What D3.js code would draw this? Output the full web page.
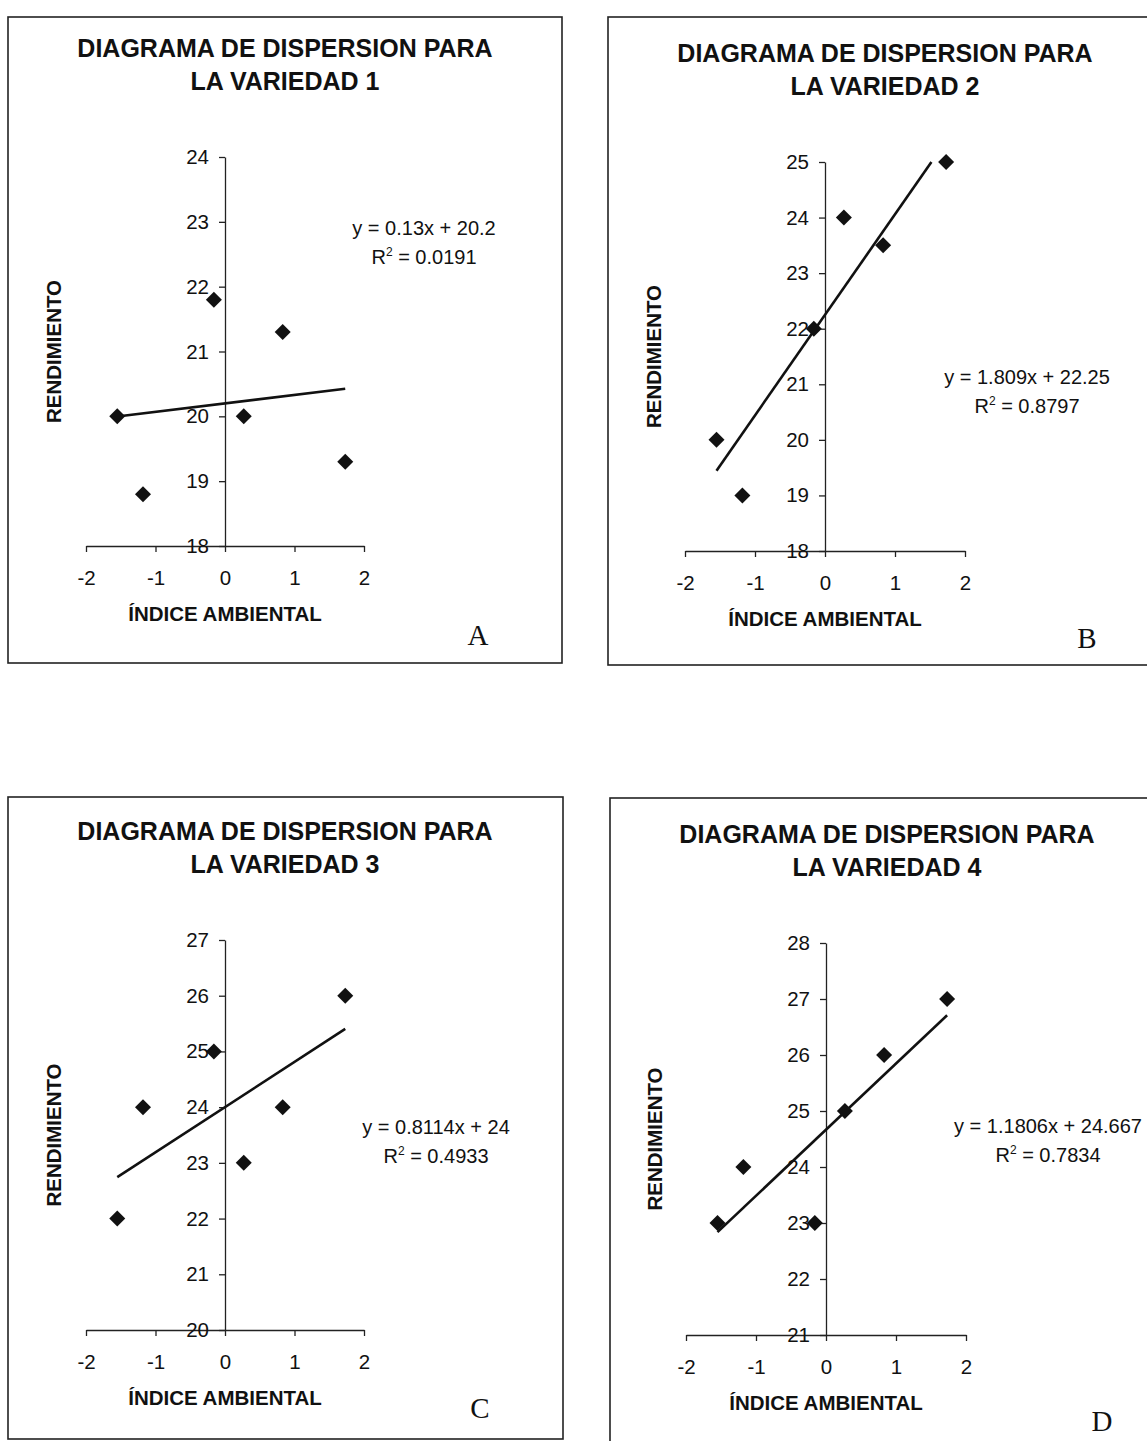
<!doctype html>
<html lang="es">
<head>
    <meta charset="UTF-8">
    <title>Diagramas de dispersion</title>
    <style>
        body { margin: 0; background: #fff; }
        svg text { font-family: "Liberation Sans", Arial, sans-serif; fill: #111; }
    </style>
</head>
<body>

<svg width="1147" height="1441"></svg>

<script src="https://d3js.org/d3.v7.min.js"></script>
<script>
    // datos
    const indiceAmbiental = [-1.55, -1.18, -0.16, 0.27, 0.83, 1.73];
    const variedad1 = [20.0, 18.8, 21.8, 20.0, 21.3, 19.3];
    const variedad2 = [20, 19, 22, 24, 23.5, 25];
    const variedad3 = [22, 24, 25, 23, 24, 26];
    const variedad4 = [23, 24, 23, 25, 26, 27];
    const pendientes = [0.13, 1.809, 0.8114, 1.1806];
    const interceptos = [20.2, 22.25, 24, 24.667];
    const r2 = ['0.0191', '0.8797', '0.4933', '0.7834'];
    const yDominios = [[18, 24], [18, 25], [20, 27], [21, 28]];
    const xTicks = [-2, -1, 0, 1, 2];
    const letras = ['A', 'B', 'C', 'D'];
    const variedades = [variedad1, variedad2, variedad3, variedad4];

    // posicion de cada panel en la pagina
    const layout = [
        { box: [8, 17, 554, 646],   x: [86, 364],  y: [546, 157],   title: 57,  eq: [424, 235],  letter: [478, 645] },
        { box: [608, 17, 560, 648], x: [685, 965], y: [551, 162],   title: 62,  eq: [1027, 384], letter: [1087, 648] },
        { box: [8, 797, 555, 642],  x: [86, 364],  y: [1330, 940],  title: 840, eq: [436, 1134], letter: [480, 1418] },
        { box: [610, 798, 560, 660], x: [686, 966], y: [1335, 943], title: 843, eq: [1048, 1133], letter: [1102, 1431] }
    ];

    const svg = d3.select('svg');
    const diamond = d3.symbol().type(d3.symbolSquare).size(128);

    variedades.forEach((ys, i) => {
        const L = layout[i];
        const g = svg.append('g');

        g.append('rect')
            .attr('x', L.box[0]).attr('y', L.box[1])
            .attr('width', L.box[2]).attr('height', L.box[3])
            .attr('fill', 'none')
            .attr('stroke', '#222')
            .attr('stroke-width', 1.6);

        const cx = L.box[0] + 277;
        const title = g.append('text')
            .attr('text-anchor', 'middle')
            .attr('font-weight', 'bold')
            .attr('font-size', 25);
        title.append('tspan').attr('x', cx).attr('y', L.title).text('DIAGRAMA DE DISPERSION PARA');
        title.append('tspan').attr('x', cx).attr('y', L.title + 33).text('LA VARIEDAD ' + (i + 1));

        const x = d3.scaleLinear().domain([-2, 2]).range(L.x);
        const y = d3.scaleLinear().domain(yDominios[i]).range(L.y);
        const yTicks = d3.range(yDominios[i][0], yDominios[i][1] + 1);

        const xAxis = g.append('g')
            .attr('transform', `translate(0,${L.y[0]})`)
            .call(d3.axisBottom(x).tickValues(xTicks).tickSize(6).tickSizeOuter(0)
                .tickPadding(18).tickFormat(d => String(d)));

        const yAxis = g.append('g')
            .attr('transform', `translate(${x(0)},0)`)
            .call(d3.axisLeft(y).tickValues(yTicks).tickSize(6).tickSizeOuter(0)
                .tickPadding(10).tickFormat(d => String(d)));

        [xAxis, yAxis].forEach(a => {
            a.selectAll('path, line').attr('stroke', '#222').attr('stroke-width', 1.3);
            a.selectAll('text')
                .attr('font-size', 20.5)
                .attr('font-family', '"Liberation Sans", Arial, sans-serif')
                .attr('fill', '#111');
        });

        // titulos de ejes
        g.append('text')
            .attr('transform', `translate(${x(0) - 164},${(L.y[0] + L.y[1]) / 2}) rotate(-90)`)
            .attr('text-anchor', 'middle')
            .attr('font-weight', 'bold')
            .attr('font-size', 20.5)
            .text('RENDIMIENTO');

        g.append('text')
            .attr('x', (L.x[0] + L.x[1]) / 2)
            .attr('y', L.y[0] + 75)
            .attr('text-anchor', 'middle')
            .attr('font-weight', 'bold')
            .attr('font-size', 20.5)
            .text('ÍNDICE AMBIENTAL');

        // linea de tendencia, recortada al rango del eje y
        const m = pendientes[i], b = interceptos[i];
        let x0 = d3.min(indiceAmbiental), x1 = d3.max(indiceAmbiental);
        const [ymin, ymax] = yDominios[i];
        if (m * x1 + b > ymax) x1 = (ymax - b) / m;
        if (m * x0 + b < ymin) x0 = (ymin - b) / m;
        g.append('line')
            .attr('x1', x(x0)).attr('y1', y(m * x0 + b))
            .attr('x2', x(x1)).attr('y2', y(m * x1 + b))
            .attr('stroke', '#111')
            .attr('stroke-width', 2.6);

        g.selectAll('path.pt')
            .data(indiceAmbiental.map((v, j) => [v, ys[j]]))
            .enter()
            .append('path')
            .attr('class', 'pt')
            .attr('d', diamond)
            .attr('transform', d => `translate(${x(d[0])},${y(d[1])}) rotate(45)`)
            .attr('fill', '#111');

        // ecuacion y R2
        g.append('text')
            .attr('x', L.eq[0]).attr('y', L.eq[1])
            .attr('text-anchor', 'middle')
            .attr('font-size', 20)
            .text(`y = ${m}x + ${b}`);

        const r = g.append('text')
            .attr('x', L.eq[0]).attr('y', L.eq[1] + 29)
            .attr('text-anchor', 'middle')
            .attr('font-size', 20);
        r.append('tspan').text('R');
        r.append('tspan').attr('font-size', 12).attr('dy', -8).text('2');
        r.append('tspan').attr('dy', 8).text(' = ' + r2[i]);

        g.append('text')
            .attr('x', L.letter[0]).attr('y', L.letter[1])
            .attr('text-anchor', 'middle')
            .attr('font-size', 29)
            .style('font-family', '"Liberation Serif", "Times New Roman", serif')
            .text(letras[i]);
    });
</script>
</body>
</html>
